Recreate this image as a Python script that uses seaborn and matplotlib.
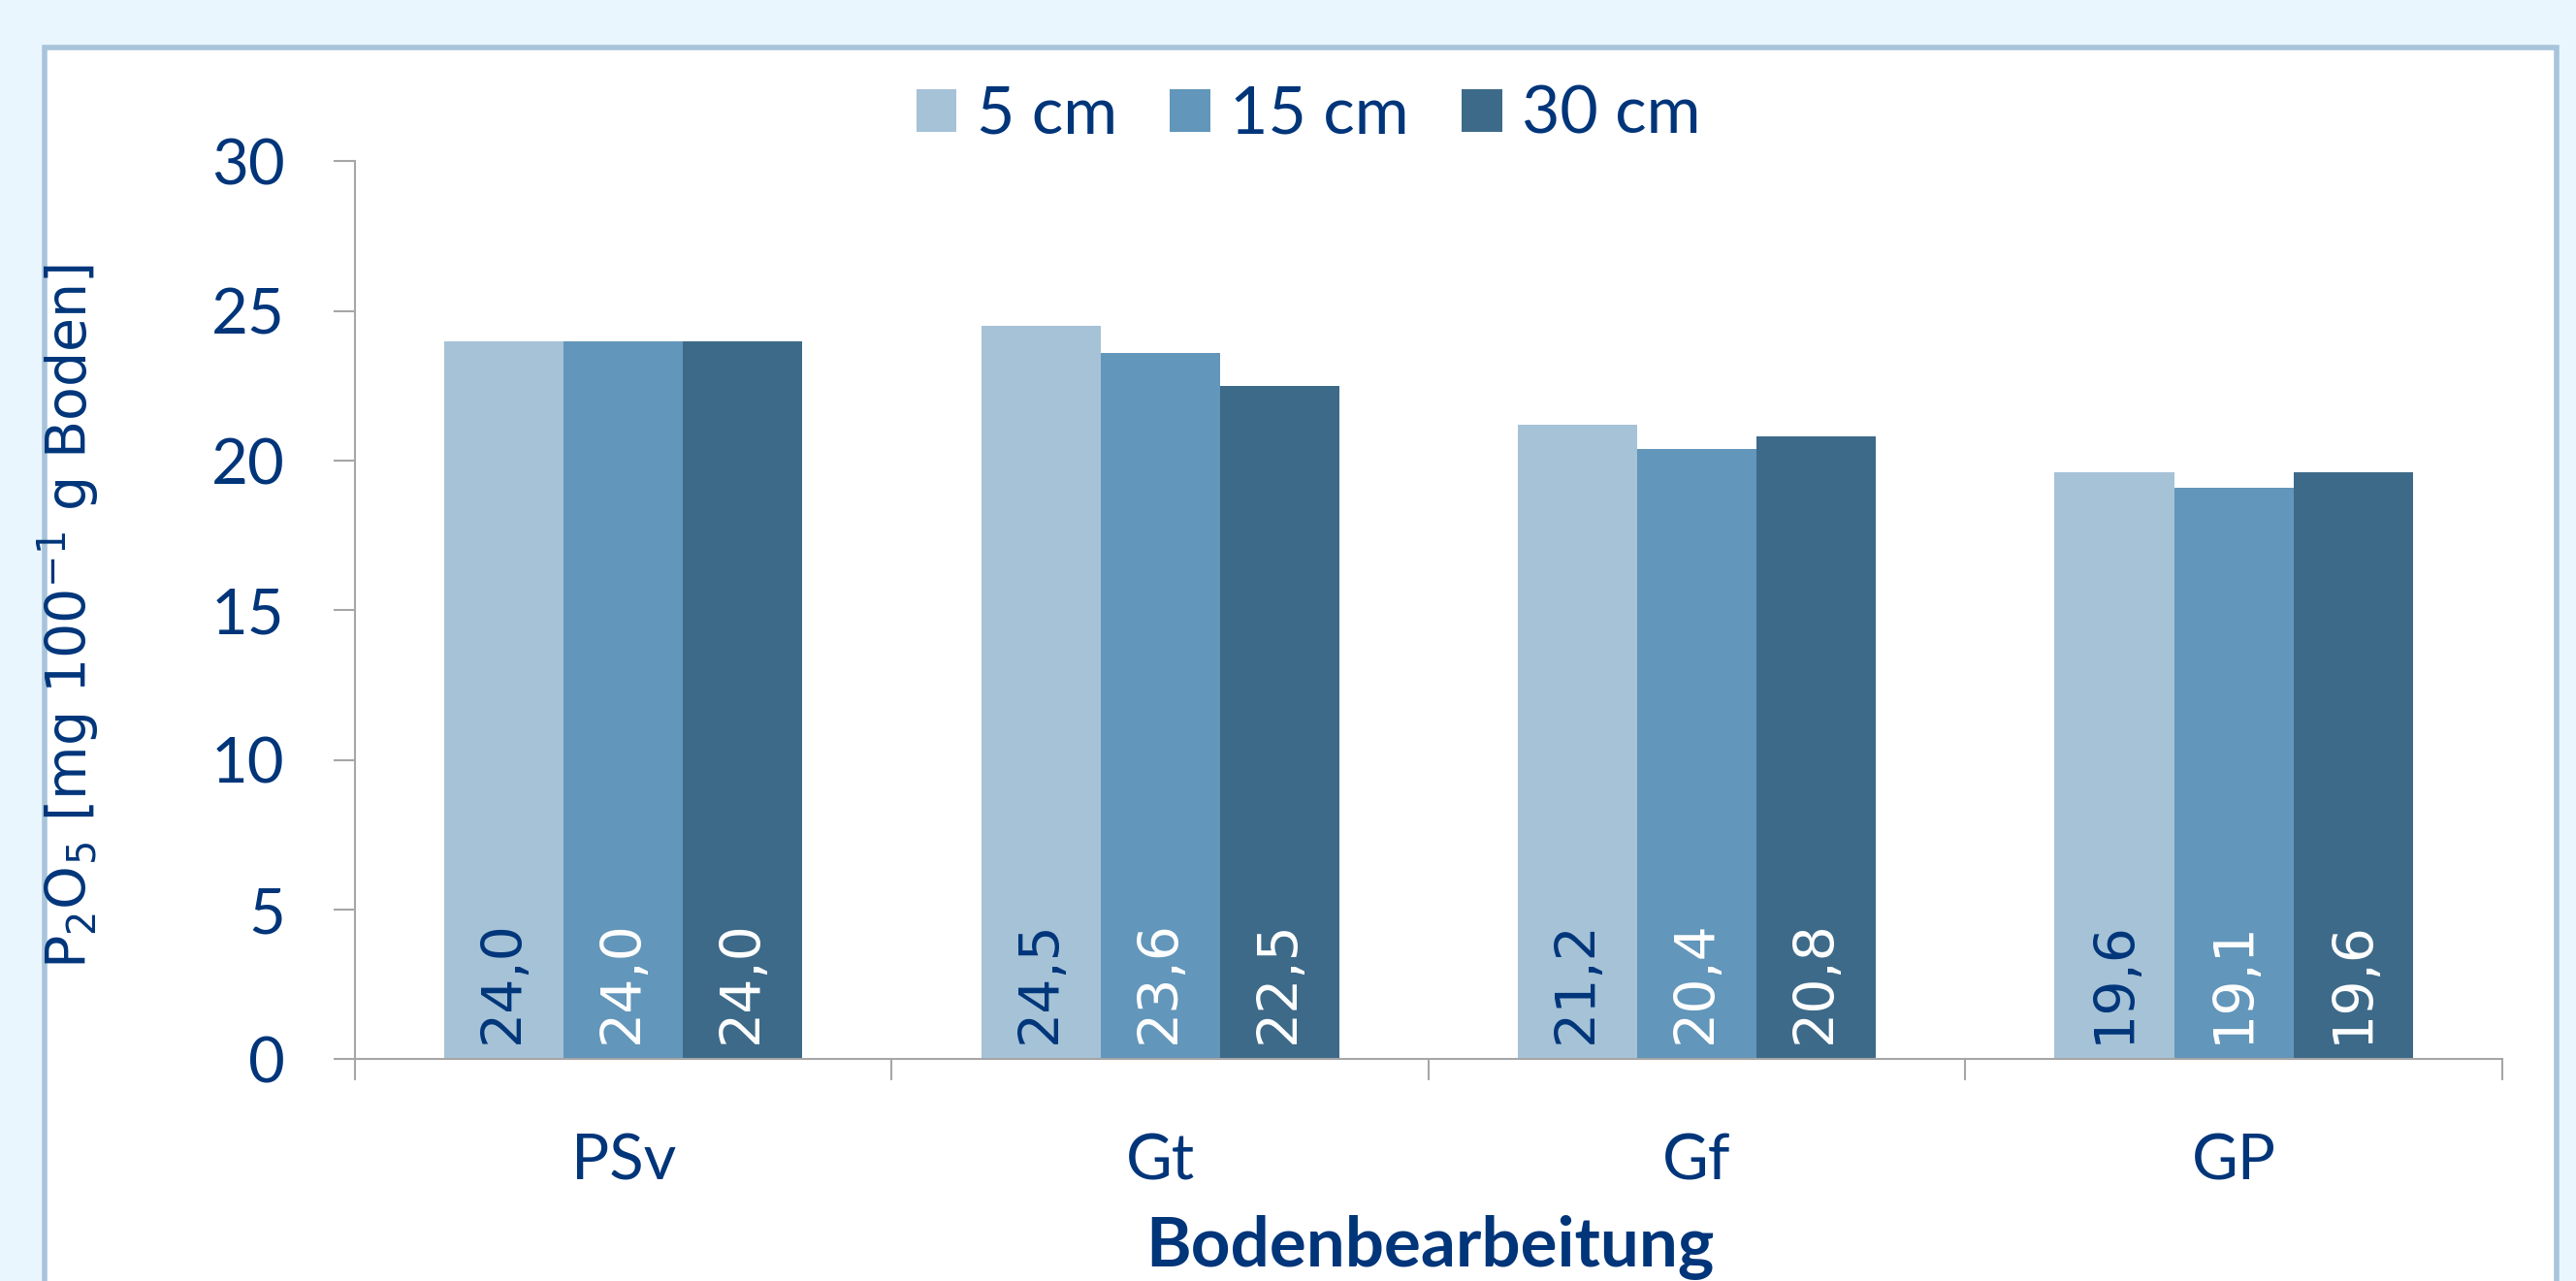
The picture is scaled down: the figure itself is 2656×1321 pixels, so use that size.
import numpy as np
import pandas as pd
import matplotlib
matplotlib.use("Agg")
import matplotlib.pyplot as plt
import seaborn as sns
from matplotlib.patches import Rectangle

# data
categories = ["PSv", "Gt", "Gf", "GP"]
depths = ["5 cm", "15 cm", "30 cm"]
values_5cm = [24.0, 24.5, 21.2, 19.6]
values_15cm = [24.0, 23.6, 20.4, 19.1]
values_30cm = [24.0, 22.5, 20.8, 19.6]
colors = ["#A5C2D7", "#6296BA", "#3D6A89"]
label_colors = ["#00357A", "white", "white"]

navy = "#00357A"
grey = "#A6A6A6"

df = pd.DataFrame({
    "Bodenbearbeitung": categories * 3,
    "Tiefe": [d for d in depths for _ in categories],
    "P2O5": values_5cm + values_15cm + values_30cm,
})

sns.set_style("white")
plt.rcParams["font.family"] = ["Lato", "DejaVu Sans"]

fig = plt.figure(figsize=(26.56, 13.21), dpi=100)
fig.patch.set_facecolor("#EAF6FE")
fig.patches.append(Rectangle((0.0172, -0.05), 0.9753, 1.013, transform=fig.transFigure,
                             facecolor="white", edgecolor="#A7C4DA", linewidth=4, zorder=-5))

ax = fig.add_axes([0.1378, 0.173, 0.8335, 0.701])
ax.set_facecolor("none")
ax.set_zorder(2)

sns.barplot(data=df, x="Bodenbearbeitung", y="P2O5", hue="Tiefe", palette=colors,
            width=0.667, saturation=1, linewidth=0, ax=ax, legend=True)

# value labels at the bottom of each bar
series = [values_5cm, values_15cm, values_30cm]
for cont, vals, tc in zip(ax.containers, series, label_colors):
    for bar, v in zip(cont, vals):
        ax.annotate(f"{v:.1f}".replace(".", ","), xy=(bar.get_x() + bar.get_width() / 2, 0),
                    xytext=(0, 12), textcoords="offset points", rotation=90,
                    ha="center", va="bottom", fontsize=41, color=tc, family="DejaVu Sans")

ax.set_ylim(0, 30)
ax.set_yticks(np.arange(0, 31, 5))
ax.set_xlim(-0.5, 3.5)
ax.set_xticks(np.arange(-0.5, 4, 1))
ax.set_xticklabels([])
ax.set_xticks(range(len(categories)), minor=True)
ax.set_xticklabels(categories, minor=True)
ax.tick_params(axis="x", which="major", bottom=True, direction="out", length=16,
               width=1.5, color=grey)
ax.tick_params(axis="x", which="minor", bottom=True, length=0, pad=55, labelsize=47,
               labelcolor=navy)
ax.tick_params(axis="y", left=True, direction="out", length=16, width=1.5, color=grey,
               pad=36, labelsize=47, labelcolor=navy)
ax.set_xlabel("")
ax.set_ylabel("")

for s in ["top", "right"]:
    ax.spines[s].set_visible(False)
for s in ["left", "bottom"]:
    ax.spines[s].set_color(grey)
    ax.spines[s].set_linewidth(1.5)

handles, labels = ax.get_legend_handles_labels()
ax.get_legend().remove()
fig.legend(handles, labels, loc="center", bbox_to_anchor=(0.508, 0.910), ncol=3,
           frameon=False, fontsize=49, labelcolor=navy, handlelength=0.61,
           handleheight=0.61, handletextpad=0.3, columnspacing=0.8)

fig.text(0.0268, 0.519, "P$_2$O$_5$ [mg 100$^{-1}$ g Boden]", rotation=90,
         ha="center", va="center", fontsize=41, color=navy, family="DejaVu Sans")
fig.text(0.555, 0.026, "Bodenbearbeitung", ha="center", va="center",
         fontsize=51, fontweight="bold", color=navy)

fig.savefig("out.png", dpi=100, facecolor=fig.get_facecolor())
